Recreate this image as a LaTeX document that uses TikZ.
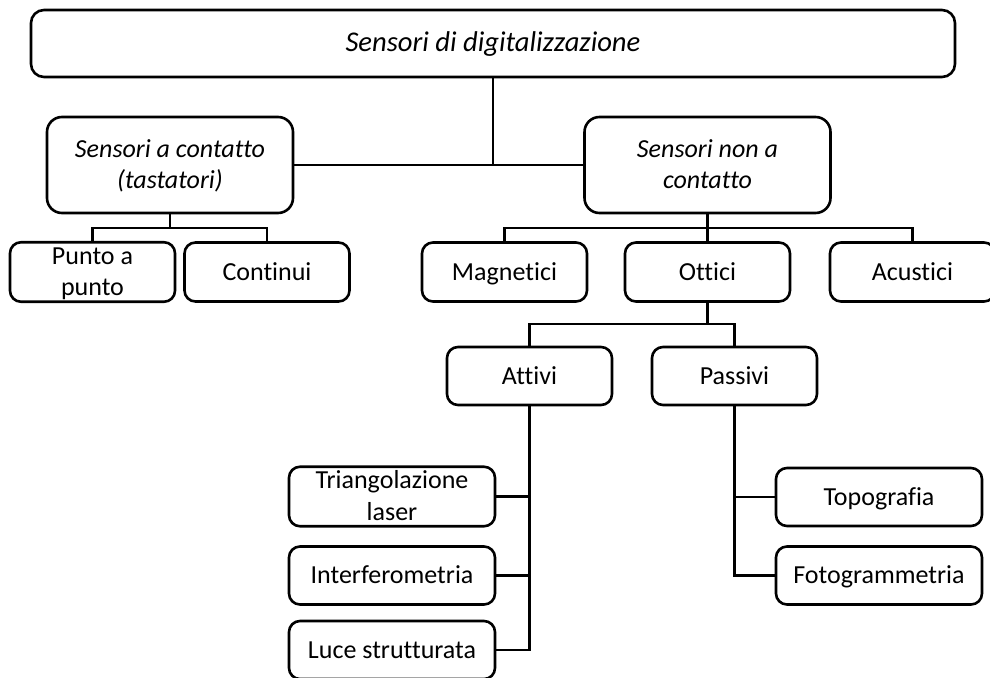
\documentclass[tikz,border=0pt]{standalone}
\usepackage{fontspec}
\setmainfont{Carlito}[Ligatures={NoCommon,NoContextual}]
% line strut: 22pt above the baseline, 6pt below
\newcommand\lstrut{\rule[-6pt]{0pt}{28pt}}
\begin{document}
\begin{tikzpicture}[x=1pt,y=-1pt,
  box/.style={draw=black, line width=2.6pt, fill=white, rounded corners=11pt,
    align=center, inner sep=0pt, text=black,
    font=\fontsize{26pt}{31.5pt}\selectfont},
  small/.style={box, minimum width=165pt, minimum height=59pt},
  wide/.style={box, minimum width=206pt, minimum height=58pt},
  big/.style={box, rounded corners=15pt, minimum width=246pt, minimum height=96pt},
  link/.style={draw=black, line width=2.6pt}]
\useasboundingbox (0,0) rectangle (990,677);

% level 0
\node[box, rounded corners=13pt, minimum width=924pt, minimum height=67pt,
  font=\fontsize{28.6pt}{34pt}\selectfont] (top) at (493,43.5)
  {\lstrut\itshape Sensori di digitalizzazione};

% level 1
\node[big] (contatto) at (170,165) {\lstrut\itshape Sensori a contatto\\\lstrut\itshape (tastatori)};
\node[big] (noncontatto) at (707.5,165) {\lstrut\itshape Sensori non a\\\lstrut\itshape contatto};

% level 2
\node[small] (punto) at (92.5,272) {\lstrut Punto a\\\lstrut punto};
\node[small] (continui) at (267,272) {\lstrut Continui};
\node[small] (magnetici) at (504.5,272) {\lstrut Magnetici};
\node[small] (ottici) at (707.5,272) {\lstrut Ottici};
\node[small] (acustici) at (912.5,272) {\lstrut Acustici};

% level 3
\node[small, minimum height=58pt] (attivi) at (529.5,376) {\lstrut Attivi};
\node[small, minimum height=58pt] (passivi) at (734.5,376) {\lstrut Passivi};

% level 4
\node[wide, minimum height=59pt] (triang) at (392,496.5) {\lstrut Triangolazione\\\lstrut laser};
\node[wide] (interf) at (392,575.5) {\lstrut Interferometria};
\node[wide] (luce) at (392,650) {\lstrut Luce strutturata};
\node[wide] (topo) at (879,497) {\lstrut Topografia};
\node[wide] (foto) at (879,575.5) {\lstrut Fotogrammetria};

% junction points
\coordinate (j0) at (top.south |- contatto.east);
\coordinate (j1) at (170,228);
\coordinate (j2) at (707.5,228);
\coordinate (j3) at (707.5,324);

% connectors
\draw[link] (contatto.east) -- (noncontatto.west);
\draw[link] (top.south) -- (j0);

\draw[link] (contatto.south) -- (j1);
\draw[link] (punto.north) |- (j1) -| (continui.north);

\draw[link] (noncontatto.south) -- (ottici.north);
\draw[link] (magnetici.north) |- (j2) -| (acustici.north);

\draw[link] (ottici.south) -- (j3);
\draw[link] (attivi.north) |- (j3) -| (passivi.north);

\draw[link] (attivi.south) |- (luce.east);
\draw[link] (triang.east) -- (triang.east -| attivi.south);
\draw[link] (interf.east) -- (interf.east -| attivi.south);

\draw[link] (passivi.south) |- (foto.west);
\draw[link] (topo.west) -- (topo.west -| passivi.south);
\end{tikzpicture}
\end{document}
